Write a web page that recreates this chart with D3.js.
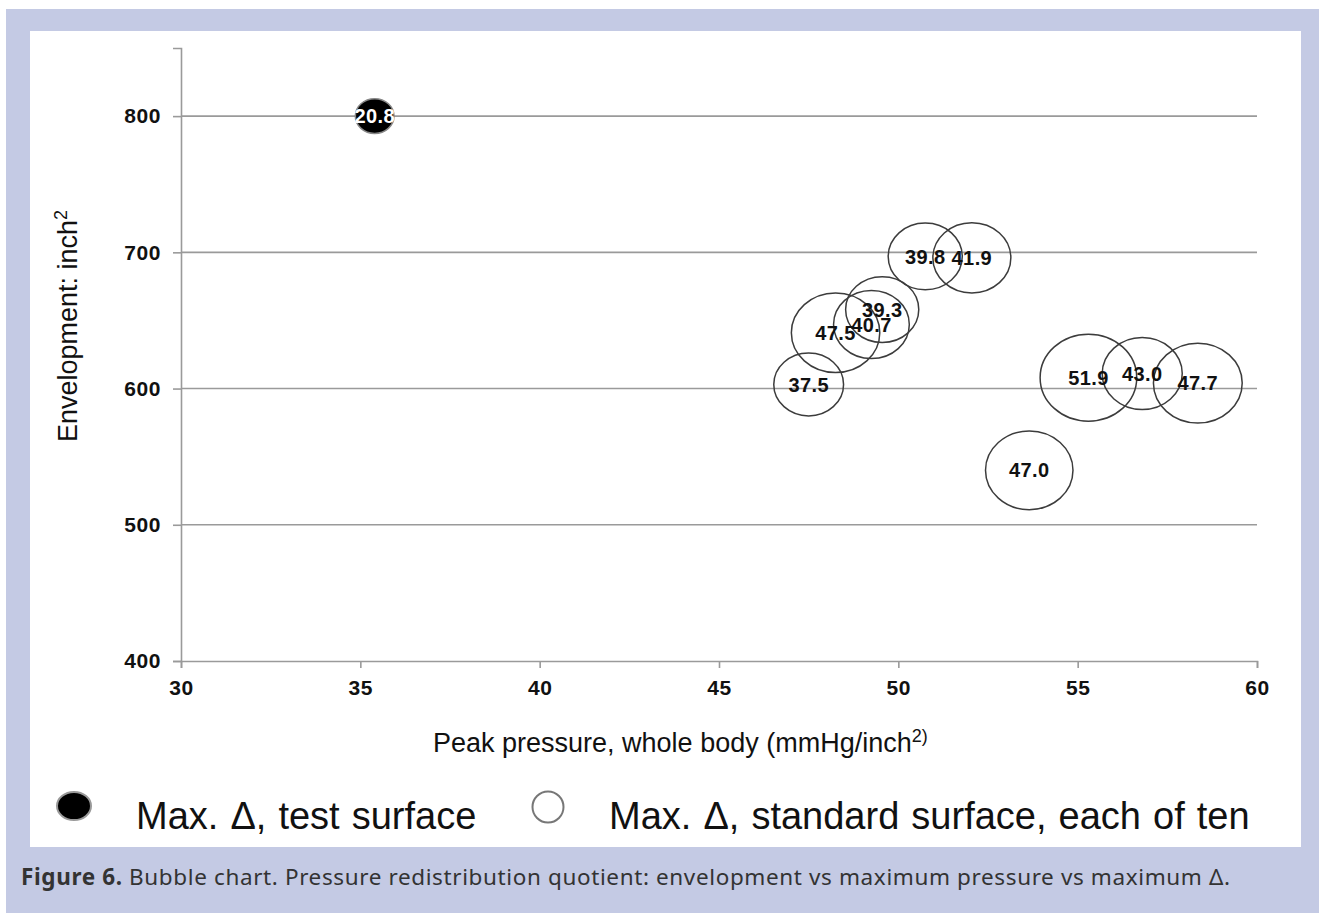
<!DOCTYPE html>
<html>
<head>
<meta charset="utf-8">
<script src="https://cdn.jsdelivr.net/npm/d3@7"></script>
<style>
  body { margin: 0; background: #fff; }
  svg { display: block; }
</style>
</head>
<body>
<svg width="1319" height="913"></svg>
<script>
// bubble data: peak pressure (x), envelopment (y), max delta (bubble size)
var pressure    = [35.4, 50.75, 52.05, 49.55, 49.25, 48.25, 47.5, 55.3, 56.8, 58.35, 53.65];
var envelopment = [800, 697, 696, 658, 647, 641, 603, 608, 611, 604, 540];
var maxDelta    = [20.8, 39.8, 41.9, 39.3, 40.7, 47.5, 37.5, 51.9, 43.0, 47.7, 47.0];
var surface     = ['test', 'standard', 'standard', 'standard', 'standard', 'standard',
                   'standard', 'standard', 'standard', 'standard', 'standard'];

var xTicks = [30, 35, 40, 45, 50, 55, 60];
var yTicks = [400, 500, 600, 700, 800];

var legendLabels = ['Max. \u0394, test surface', 'Max. \u0394, standard surface, each of ten'];

var bubbles = pressure.map(function(d, i) {
    return {x: d, y: envelopment[i], size: maxDelta[i], kind: surface[i]};
});

var svg = d3.select('svg');

// page frame
svg.append('rect').attr('x', 6).attr('y', 9).attr('width', 1313).attr('height', 904)
    .attr('fill', '#c4cae4');
svg.append('rect').attr('x', 30).attr('y', 31).attr('width', 1271).attr('height', 816)
    .attr('fill', '#fff');

var xScale = d3.scaleLinear().domain([30, 60]).range([181, 1257]);
var yScale = d3.scaleLinear().domain([400, 850]).range([661, 48]);
var rxScale = d3.scaleLinear().domain([0, 51.9]).range([0, 48.3]);
var aspect = 0.9;

// gridlines
svg.append('g').selectAll('line')
    .data(yTicks.filter(function(d) { return d > 400; }))
    .enter().append('line')
    .attr('x1', xScale(30)).attr('x2', xScale(60))
    .attr('y1', function(d) { return yScale(d); })
    .attr('y2', function(d) { return yScale(d); })
    .attr('stroke', '#9a9a9a').attr('stroke-width', 1.6);

var axisFont = 'bold 21px "Liberation Sans", Arial, sans-serif';

var yAxis = d3.axisLeft(yScale).tickValues(yTicks).tickSize(8).tickPadding(12);
var yG = svg.append('g').attr('transform', 'translate(' + xScale(30) + ',0)').call(yAxis);

var xAxis = d3.axisBottom(xScale).tickValues(xTicks).tickSize(7).tickPadding(12);
var xG = svg.append('g').attr('transform', 'translate(0,' + yScale(400) + ')').call(xAxis);

[xG, yG].forEach(function(g) {
    g.select('.domain').attr('stroke', '#9a9a9a').attr('stroke-width', 1.6);
    g.selectAll('.tick line').attr('stroke', '#9a9a9a').attr('stroke-width', 1.6);
    g.selectAll('.tick text').style('font', axisFont).attr('fill', '#111')
        .style('letter-spacing', '0.6px');
});

// axis titles
var yTitle = svg.append('text')
    .attr('transform', 'translate(77,' + 326 + ') rotate(-90)')
    .attr('text-anchor', 'middle')
    .style('font', '27px "Liberation Sans", Arial, sans-serif')
    .attr('fill', '#111');
yTitle.append('tspan').text('Envelopment: inch');
yTitle.append('tspan').attr('dy', -10).style('font-size', '18px').text('2');

var xTitle = svg.append('text')
    .attr('x', 433).attr('y', 752)
    .style('font', '27px "Liberation Sans", Arial, sans-serif')
    .attr('fill', '#111');
xTitle.append('tspan').text('Peak pressure, whole body (mmHg/inch');
xTitle.append('tspan').attr('dy', -10).style('font-size', '18px').text('2)');

// bubbles
var bubbleG = svg.append('g');
bubbleG.selectAll('ellipse')
    .data(bubbles)
    .enter().append('ellipse')
    .attr('cx', function(d) { return xScale(d.x); })
    .attr('cy', function(d) { return yScale(d.y); })
    .attr('rx', function(d) { return rxScale(d.size); })
    .attr('ry', function(d) { return rxScale(d.size) * aspect; })
    .attr('fill', function(d) { return d.kind == 'test' ? '#000' : 'none'; })
    .attr('stroke', function(d) { return d.kind == 'test' ? '#888' : '#3c3c3c'; })
    .attr('stroke-width', 1.5);

bubbleG.selectAll('text')
    .data(bubbles)
    .enter().append('text')
    .attr('x', function(d) { return xScale(d.x); })
    .attr('y', function(d) { return yScale(d.y); })
    .attr('dy', '0.36em')
    .attr('text-anchor', 'middle')
    .style('font', 'bold 20px "Liberation Sans", Arial, sans-serif')
    .style('letter-spacing', '0.4px')
    .attr('fill', function(d) { return d.kind == 'test' ? '#fff' : '#111'; })
    .text(function(d) { return d.size.toFixed(1); });

// legend
var legend = svg.append('g');
legend.append('ellipse').attr('cx', 74).attr('cy', 806).attr('rx', 17).attr('ry', 14)
    .attr('fill', '#000').attr('stroke', '#999').attr('stroke-width', 2);
legend.append('ellipse').attr('cx', 548).attr('cy', 807).attr('rx', 15.5).attr('ry', 15.5)
    .attr('fill', 'none').attr('stroke', '#777').attr('stroke-width', 2);
legend.selectAll('text')
    .data(legendLabels)
    .enter().append('text')
    .attr('x', function(d, i) { return i == 0 ? 136 : 609; })
    .attr('y', 829)
    .style('font', '38px "Liberation Sans", Arial, sans-serif')
    .style('word-spacing', '1.5px')
    .attr('fill', '#111')
    .text(function(d) { return d; });

// caption
var caption = svg.append('text')
    .attr('x', 21).attr('y', 885)
    .attr('textLength', 1209).attr('lengthAdjust', 'spacing')
    .style('font', '22.5px "Noto Sans", "Liberation Sans", sans-serif')
    .attr('fill', '#333');
caption.append('tspan').style('font-weight', 'bold').text('Figure 6.');
caption.append('tspan').text(' Bubble chart. Pressure redistribution quotient: envelopment vs maximum pressure vs maximum \u0394.');
</script>
</body>
</html>
